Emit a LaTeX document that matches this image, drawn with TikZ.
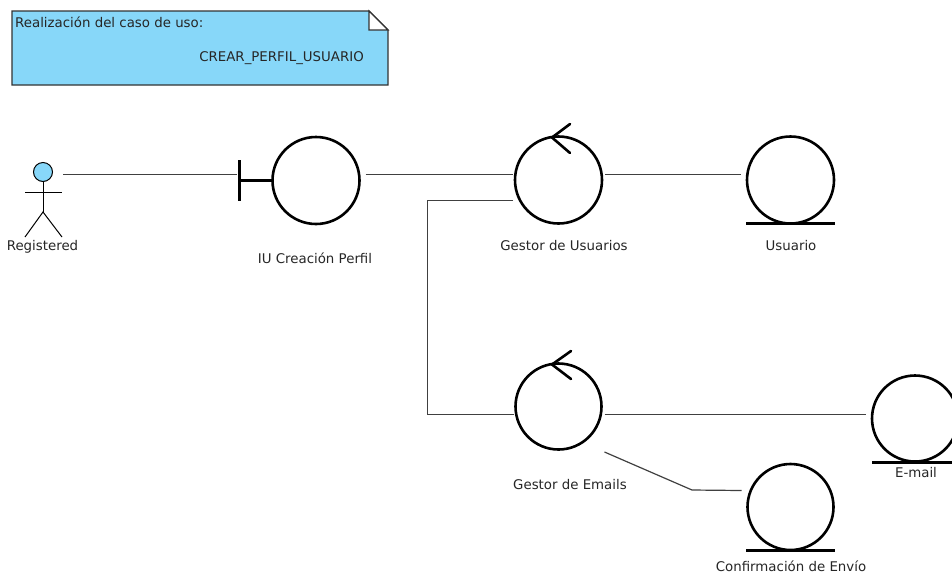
\documentclass[tikz,border=0pt]{standalone}
\usepackage{fontspec}
\setmainfont{DejaVu Sans}
\definecolor{noteblue}{HTML}{87D7F9}
\begin{document}
\begin{tikzpicture}[x=1pt,y=-1pt,
  robust/.style={circle,draw=black,line width=2.6pt,fill=white,inner sep=0pt,minimum size=86pt,outer sep=0pt},
  heavy/.style={black,line width=3pt},
  ctrl/.style={black,line width=2.6pt,line cap=round},
  conn/.style={draw=black!75,line width=1.2pt},
  stick/.style={black,line width=1pt},
  lbl/.style={inner sep=0pt,font=\fontsize{13.35}{15}\selectfont,text=black!85}]
\useasboundingbox (0,0) rectangle (952,574);
% note
\path[fill=white] (0,0) rectangle (952,574);
\draw[draw=black!80,fill=noteblue,line width=1.2pt] (12,11) -- (369,11) -- (388,30) -- (388,85) -- (12,85) -- cycle;
\draw[draw=black!80,fill=white,line width=1.2pt] (369,11) -- (388,30) -- (369,30) -- cycle;
\node[lbl,anchor=west] (notetitle) at (15,22) {Realización del caso de uso:};
\node[lbl,anchor=east] (notebody) at (364,58) {CREAR\_PERFIL\_USUARIO};
% actor
\node[circle,draw=black,fill=noteblue,line width=1pt,minimum size=19pt,inner sep=0pt] (actor) at (43,172) {};
\coordinate (hip) at (43,212);
\draw[stick] (actor.south) -- (hip);
\draw[stick] (25,192) -- (62,192);
\draw[stick] (25,237) -- (hip) -- (62,237);
\node[lbl] (actorlbl) at (42.5,246.5) {Registered};
% robustness
\node[robust,minimum size=87pt] (iu) at (316,180.5) {};
\node[robust,minimum size=87pt] (gu) at (558.5,180) {};
\node[robust,minimum size=87pt] (us) at (790.5,180) {};
\node[robust,minimum size=86pt] (ge) at (558.5,406.5) {};
\node[robust] (em) at (915,418.5) {};
\node[robust] (ce) at (790.5,507) {};
% boundary
\coordinate (bnd) at (239,180.5);
\draw[heavy] (239,160) -- (239,201);
\draw[heavy] (bnd) -- (iu.west);
% control arrows
\draw[ctrl] (570,124) -- (552,137.5) -- (570,153);
\draw[ctrl] (571,351) -- (552,364.5) -- (571,379);
% entity bases
\draw[heavy] (746,223.5) -- (835,223.5);
\draw[heavy] (872,462) -- (952,462);
\draw[heavy] (746,550.5) -- (835,550.5);
% labels
\node[lbl] (iulbl) at (315,258) {IU Creación Perfil};
\node[lbl] (gulbl) at (564,246) {Gestor de Usuarios};
\node[lbl] (uslbl) at (791,246) {Usuario};
\node[lbl] (gelbl) at (570,485) {Gestor de Emails};
\node[lbl] (emlbl) at (916,473) {E-mail};
\node[lbl] (celbl) at (791,566) {Confirmación de Envío};
% connectors
\draw[conn] ([shift={(10,2.5)}]actor.east) -- ([shift={(-2,-6)}]bnd);
\draw[conn] ([shift={(6,-6)}]iu.east) -- ([shift={(-2,-5.5)}]gu.west);
\draw[conn] ([shift={(3,-5.5)}]gu.east) -- ([shift={(-6,-5.5)}]us.west);
\draw[conn] ([shift={(-2,20.5)}]gu.west) -- (427.5,200.5) -- (427.5,414.5) -- ([shift={(-2,8)}]ge.west);
\draw[conn] ([shift={(3,8)}]ge.east) -- ([shift={(-6,-4)}]em.west);
\draw[conn] ([shift={(3,45.5)}]ge.east) -- (692,490) -- ([shift={(-6,-16.5)}]ce.west);
\end{tikzpicture}
\end{document}
